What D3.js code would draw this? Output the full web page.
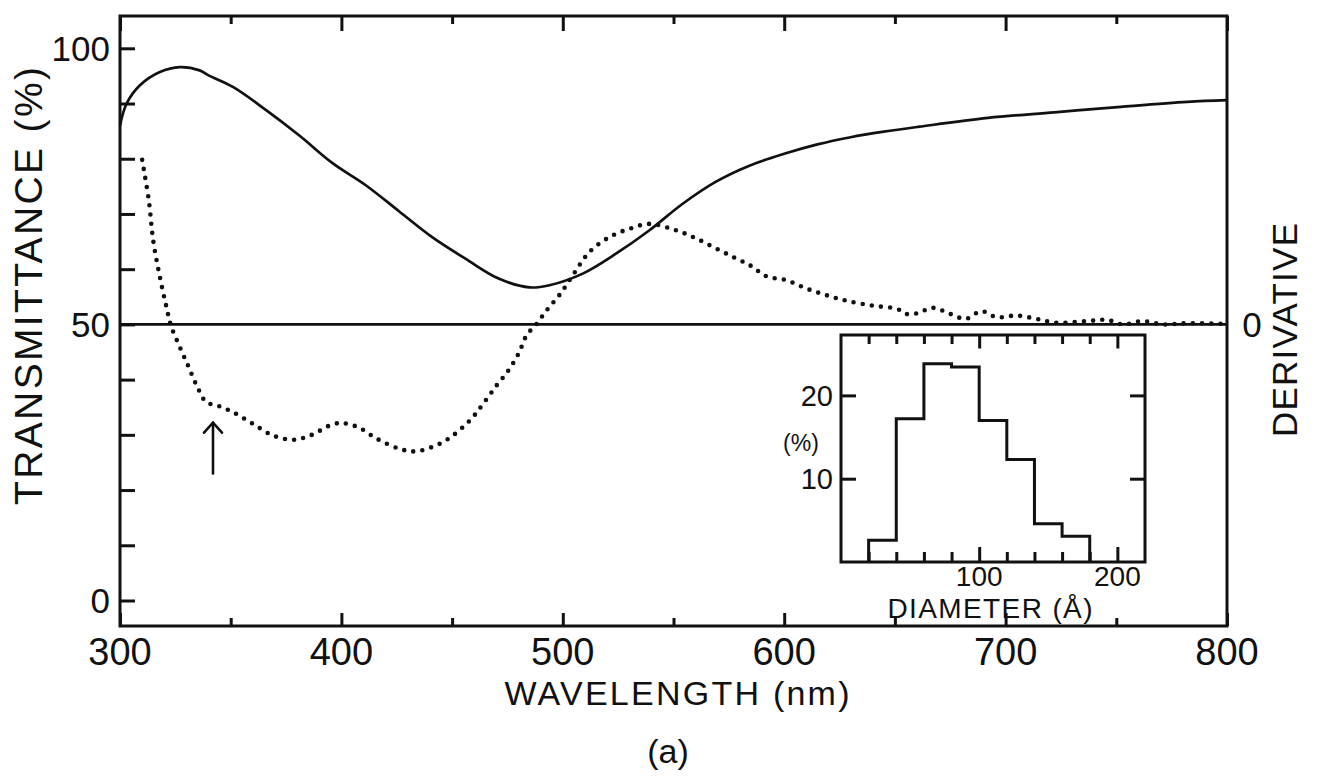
<!DOCTYPE html>
<html>
<head>
<meta charset="utf-8">
<script src="https://cdn.jsdelivr.net/npm/d3@7"></script>
<style>
  html, body { margin: 0; padding: 0; background: #fff; }
  svg text { font-family: "Liberation Sans", Arial, sans-serif; fill: #111; }
</style>
</head>
<body>
<svg id="chart" width="1319" height="777"></svg>
<script>
// Transmittance spectrum (solid), wavelength in nm and transmittance in %
const transWavelength = [300, 303, 309, 318, 327, 336, 340, 351, 366, 381, 396, 411, 426, 441, 456, 471, 485, 494, 509, 524, 539, 554, 569, 584, 600, 615, 630, 645, 661, 692, 722, 752, 782, 800];
const transmittance   = [86.0, 90.0, 93.3, 95.7, 96.6, 96.0, 95.1, 93.0, 88.8, 84.2, 79.2, 75.2, 70.5, 65.8, 61.9, 58.3, 56.7, 57.1, 59.2, 62.8, 67.0, 71.8, 75.8, 78.7, 80.9, 82.6, 83.9, 84.9, 85.8, 87.4, 88.4, 89.4, 90.3, 90.6];

// Derivative of the spectrum (dotted), arbitrary units, zero on the right axis
const derivWavelength = [310, 313, 315, 318, 321, 323, 327, 331, 335, 339, 344, 351, 360, 369, 378, 386, 396, 401, 408, 416, 426, 433, 441, 448, 458, 464, 470, 475, 480, 484, 487, 493, 499, 505, 512, 521, 530, 539, 550, 559, 568, 577, 585, 592, 601, 610, 619, 628, 640, 651, 655, 660, 667, 675, 682, 689, 696, 705, 714, 723, 737, 746, 753, 762, 771, 782, 799];
const derivative      = [29.8, 22.5, 15.2, 8.6, 3.1, -0.2, -4.1, -7.7, -11.4, -14.1, -14.7, -15.9, -18.0, -20.1, -20.9, -20.1, -18.1, -17.9, -18.7, -20.7, -22.5, -23.0, -22.2, -20.8, -17.4, -14.4, -11.1, -8.6, -5.3, -1.7, -0.5, 2.7, 5.6, 9.2, 13.1, 15.8, 17.3, 18.2, 17.2, 15.8, 14.0, 12.2, 10.6, 8.7, 8.0, 6.5, 5.3, 4.3, 3.4, 2.8, 1.9, 2.0, 3.0, 1.9, 1.0, 2.4, 1.3, 1.6, 1.0, 0.3, 0.6, 0.8, 0.0, 0.6, 0.0, 0.2, 0.1];

// Particle size distribution (inset histogram): bin lower edges in Å, share in %
const binStart = [20, 40, 60, 80, 100, 120, 140, 160];
const binWidth = 20;
const binShare = [2.6, 17.2, 23.8, 23.4, 17.0, 12.3, 4.6, 3.1];

// Axis tick values and labels
const xMajorTicks = [300, 400, 500, 600, 700, 800];
const xMinorTicks = [350, 450, 550, 650, 750];
const yTickValues = [0, 10, 20, 30, 40, 50, 60, 70, 80, 90, 100];
const yTickLabels = [0, 50, 100];
const insetXTicks = [20, 40, 60, 80, 100, 120, 140, 160, 180, 200];
const insetXLabels = [100, 200];
const insetYTicks = [10, 20];
const markedWavelength = 342;   // shoulder marked by the arrow

const svg = d3.select("#chart");
const ink = "#111";

// ---------- main panel ----------
const L = 120, R = 1227, T = 16, B = 626;
const x = d3.scaleLinear().domain([300, 800]).range([L, R]);
const y = d3.scaleLinear().domain([0, 100]).range([600.5, 48.3]);
// derivative axis shares pixel scale, zero sits on the 50 % line
const yD = d3.scaleLinear().domain([-50, 50]).range([600.5, 48.3]);

const main = svg.append("g");

// frame
main.append("rect")
  .attr("x", L).attr("y", T).attr("width", R - L).attr("height", B - T)
  .attr("fill", "none").attr("stroke", ink).attr("stroke-width", 3);

// zero line of the derivative
main.append("line")
  .attr("x1", L).attr("x2", R).attr("y1", yD(0)).attr("y2", yD(0))
  .attr("stroke", ink).attr("stroke-width", 2.6);

// bottom and top axes: major and minor ticks pointing inward
const bottomMajor = d3.axisTop(x).tickValues(xMajorTicks).tickSize(13).tickFormat("");
const bottomMinor = d3.axisTop(x).tickValues(xMinorTicks).tickSize(8).tickFormat("");
const topMajor = d3.axisBottom(x).tickValues(xMajorTicks).tickSize(15).tickFormat("");
const topMinor = d3.axisBottom(x).tickValues(xMinorTicks).tickSize(8).tickFormat("");
[[bottomMajor, B], [bottomMinor, B], [topMajor, T], [topMinor, T]].forEach(([ax, pos]) => {
  const g = main.append("g").attr("transform", `translate(0,${pos})`).call(ax);
  g.select(".domain").remove();
  g.selectAll(".tick line").attr("stroke", ink).attr("stroke-width", 3);
});

// x tick labels
main.append("g").selectAll("text").data(xMajorTicks).join("text")
  .attr("x", d => x(d)).attr("y", 665)
  .attr("text-anchor", "middle").attr("font-size", 38)
  .text(d => d);

// left axis ticks
const leftAx = d3.axisRight(y).tickValues(yTickValues).tickSize(15).tickFormat("");
const gl = main.append("g").attr("transform", `translate(${L},0)`).call(leftAx);
gl.select(".domain").remove();
gl.selectAll(".tick line").attr("stroke", ink).attr("stroke-width", 3);

main.append("g").selectAll("text").data(yTickLabels).join("text")
  .attr("x", 110).attr("y", d => y(d) + 12.5)
  .attr("text-anchor", "end").attr("font-size", 35)
  .text(d => d);

// right axis zero label
main.append("text")
  .attr("x", 1252).attr("y", yD(0) + 13)
  .attr("text-anchor", "middle").attr("font-size", 35)
  .text("0");

// axis titles
main.append("text")
  .attr("transform", "translate(42,286) rotate(-90)")
  .attr("text-anchor", "middle").attr("font-size", 39)
  .attr("textLength", 438).attr("lengthAdjust", "spacing")
  .text("TRANSMITTANCE (%)");

main.append("text")
  .attr("transform", "translate(1297,330) rotate(-90)")
  .attr("text-anchor", "middle").attr("font-size", 35)
  .attr("textLength", 214).attr("lengthAdjust", "spacing")
  .text("DERIVATIVE");

main.append("text")
  .attr("x", 677).attr("y", 705)
  .attr("text-anchor", "middle").attr("font-size", 34)
  .attr("textLength", 345).attr("lengthAdjust", "spacing")
  .text("WAVELENGTH (nm)");

main.append("text")
  .attr("x", 668).attr("y", 763)
  .attr("text-anchor", "middle").attr("font-size", 34)
  .text("(a)");

// transmittance curve
const transLine = d3.line()
  .x((d, i) => x(transWavelength[i]))
  .y(d => y(d))
  .curve(d3.curveCatmullRom.alpha(0.5));
main.append("path")
  .attr("d", transLine(transmittance))
  .attr("fill", "none").attr("stroke", ink).attr("stroke-width", 2.7);

// derivative curve, dotted
const derivLine = d3.line()
  .x((d, i) => x(derivWavelength[i]))
  .y(d => yD(d))
  .curve(d3.curveCatmullRom.alpha(0.5));
main.append("path")
  .attr("d", derivLine(derivative))
  .attr("fill", "none").attr("stroke", ink).attr("stroke-width", 4.6)
  .attr("stroke-linecap", "round").attr("stroke-dasharray", "0 9.2");

// arrow marking the shoulder
const ax0 = x(markedWavelength);
const arrow = main.append("g").attr("stroke", ink).attr("stroke-width", 2.6).attr("fill", "none")
  .attr("stroke-linecap", "round");
arrow.append("line").attr("x1", ax0).attr("x2", ax0).attr("y1", y(23)).attr("y2", y(32.2));
arrow.append("path").attr("d", `M${ax0 - 9},${y(32.2) + 10} L${ax0},${y(32.2)} L${ax0 + 9},${y(32.2) + 10}`);

// ---------- inset: size distribution ----------
const iL = 841, iR = 1145, iT = 335, iB = 562;
const xi = d3.scaleLinear().domain([0, 220]).range([iL, iR]);
const yi = d3.scaleLinear().domain([0, 27.25]).range([iB, iT]);
const inset = svg.append("g");

inset.append("rect")
  .attr("x", iL).attr("y", iT).attr("width", iR - iL).attr("height", iB - iT)
  .attr("fill", "#fff").attr("stroke", ink).attr("stroke-width", 3);

const isMajor = d => d % 100 === 0;
const ib = inset.append("g").attr("transform", `translate(0,${iB})`)
  .call(d3.axisTop(xi).tickValues(insetXTicks).tickSize(10).tickFormat(""));
const it = inset.append("g").attr("transform", `translate(0,${iT})`)
  .call(d3.axisBottom(xi).tickValues(insetXTicks).tickSize(9).tickFormat(""));
[ib, it].forEach(g => {
  g.select(".domain").remove();
  g.selectAll(".tick line").attr("stroke", ink).attr("stroke-width", 3)
    .attr("y2", function (d) {
      const v = +d3.select(this).attr("y2");
      return isMajor(d) ? v * 1.5 : v;
    });
});
const iy1 = inset.append("g").attr("transform", `translate(${iL},0)`)
  .call(d3.axisRight(yi).tickValues(insetYTicks).tickSize(15).tickFormat(""));
const iy2 = inset.append("g").attr("transform", `translate(${iR},0)`)
  .call(d3.axisLeft(yi).tickValues(insetYTicks).tickSize(15).tickFormat(""));
[iy1, iy2].forEach(g => {
  g.select(".domain").remove();
  g.selectAll(".tick line").attr("stroke", ink).attr("stroke-width", 3);
});

// histogram outline
const steps = [[binStart[0], 0]];
binStart.forEach((s, i) => {
  steps.push([s, binShare[i]]);
  steps.push([s + binWidth, binShare[i]]);
});
steps.push([binStart[binStart.length - 1] + binWidth, 0]);
inset.append("path")
  .attr("d", d3.line().x(d => xi(d[0])).y(d => yi(d[1]))(steps))
  .attr("fill", "none").attr("stroke", ink).attr("stroke-width", 3)
  .attr("stroke-linejoin", "miter");

// inset labels
inset.append("g").selectAll("text").data(insetYTicks).join("text")
  .attr("x", 833).attr("y", d => yi(d) + 10.5)
  .attr("text-anchor", "end").attr("font-size", 29)
  .text(d => d);
inset.append("text")
  .attr("x", 801).attr("y", 451)
  .attr("text-anchor", "middle").attr("font-size", 23)
  .text("(%)");
inset.append("g").selectAll("text").data(insetXLabels).join("text")
  .attr("x", d => xi(d)).attr("y", 586)
  .attr("text-anchor", "middle").attr("font-size", 28)
  .text(d => d);
inset.append("text")
  .attr("x", 990).attr("y", 618)
  .attr("text-anchor", "middle").attr("font-size", 28)
  .attr("textLength", 205).attr("lengthAdjust", "spacing")
  .text("DIAMETER (Å)");
</script>
</body>
</html>
